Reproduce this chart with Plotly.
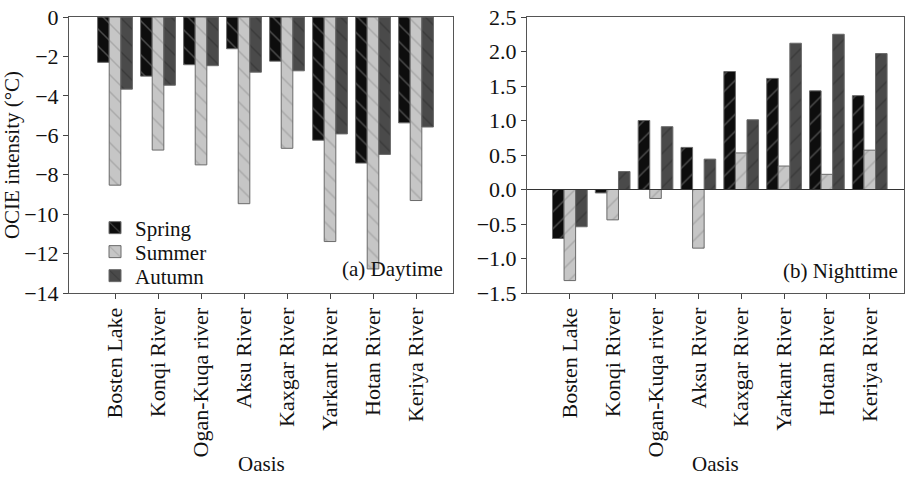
import plotly.graph_objects as go

oases = ["Bosten Lake", "Konqi River", "Ogan-Kuqa river", "Aksu River",
         "Kaxgar River", "Yarkant River", "Hotan River", "Keriya River"]
seasons = ["Spring", "Summer", "Autumn"]

day_spring = [-2.3, -3.0, -2.42, -1.61, -2.24, -6.25, -7.41, -5.37]
day_summer = [-8.53, -6.75, -7.5, -9.47, -6.66, -11.39, -12.78, -9.31]
day_autumn = [-3.66, -3.46, -2.47, -2.8, -2.73, -5.93, -6.97, -5.58]

night_spring = [-0.71, -0.05, 1.0, 0.61, 1.71, 1.61, 1.43, 1.36]
night_summer = [-1.32, -0.44, -0.13, -0.85, 0.53, 0.34, 0.22, 0.57]
night_autumn = [-0.54, 0.26, 0.91, 0.44, 1.01, 2.12, 2.25, 1.97]

day_ticks = [0, -2, -4, -6, -8, -10, -12, -14]
night_ticks = [2.5, 2.0, 1.5, 1.0, 0.5, 0.0, -0.5, -1.0, -1.5]

x_pos = list(range(len(oases)))

FONT = "Liberation Serif"
fills = {"Spring": "#0d0d0d", "Summer": "#c6c6c6", "Autumn": "#4a4a4a"}
hatch = {"Spring": "#8a8a8a", "Summer": "#8c8c8c", "Autumn": "#2a2a2a"}
legend_ids = {"Spring": "legend", "Summer": "legend2", "Autumn": "legend3"}

fig = go.Figure()

day = {"Spring": day_spring, "Summer": day_summer, "Autumn": day_autumn}
night = {"Spring": night_spring, "Summer": night_summer, "Autumn": night_autumn}

for s in seasons:
    fig.add_trace(go.Bar(
        x=x_pos, y=day[s], name=s, xaxis="x", yaxis="y", legendgroup=s,
        legend=legend_ids[s],
        marker=dict(color=fills[s], line=dict(color="#6a6a6a", width=1),
                    pattern=dict(shape="\\", fgcolor=hatch[s], size=12, solidity=0.12)),
    ))
for s in seasons:
    fig.add_trace(go.Bar(
        x=x_pos, y=night[s], name=s, xaxis="x2", yaxis="y2", legendgroup=s, showlegend=False,
        marker=dict(color=fills[s], line=dict(color="#6a6a6a", width=1),
                    pattern=dict(shape="/", fgcolor=hatch[s], size=12, solidity=0.12)),
    ))

axis_common = dict(showline=True, linecolor="#555", linewidth=1, mirror=True,
                   ticks="outside", ticklen=5, tickcolor="#444", showgrid=False,
                   zeroline=False, automargin=False, ticklabeloverflow="allow",
                   tickfont=dict(family=FONT, size=22, color="#111"))

TF = dict(family=FONT, size=21, color="#111")
PW = 904  # plotting paper width


def leg(ypos):
    return dict(x=95/PW, y=ypos, xanchor="left", yanchor="middle",
                bgcolor="rgba(0,0,0,0)", font=TF, itemwidth=30)


fig.update_layout(
    width=906, height=478,
    margin=dict(l=0, r=2, t=17, b=185),
    paper_bgcolor="white", plot_bgcolor="white",
    barmode="group", bargap=0.19, bargroupgap=0,
    font=TF,
    xaxis=dict(domain=[69/PW, 453/PW], range=[-1.07, 7.86], tickvals=x_pos,
               ticktext=oases, tickangle=-90, anchor="y", **axis_common),
    yaxis=dict(domain=[0, 1], range=[-14, 0], tickvals=day_ticks, anchor="x",
               title=dict(text="OCIE intensity (°C)", standoff=0, font=TF),
               **axis_common),
    xaxis2=dict(domain=[527/PW, 1.0], range=[-1.0, 7.8], tickvals=x_pos,
                ticktext=oases, tickangle=-90, anchor="y2", **axis_common),
    yaxis2=dict(domain=[0, 1], range=[-1.5, 2.5], tickvals=night_ticks, tickformat=".1f",
                anchor="x2", **axis_common),
    legend=leg(0.2355),
    legend2=leg(0.1486),
    legend3=leg(0.0616),
    shapes=[dict(type="line", xref="x2 domain", yref="y2", x0=0, x1=1, y0=0, y1=0,
                 line=dict(color="#333", width=1.2))],
    annotations=[
        dict(text="(a) Daytime", xref="x domain", yref="y domain", x=0.978, y=0.037,
             xanchor="right", yanchor="bottom", showarrow=False, font=TF),
        dict(text="(b) Nighttime", xref="x2 domain", yref="y2 domain", x=0.99, y=0.03,
             xanchor="right", yanchor="bottom", showarrow=False, font=TF),
        dict(text="Oasis", xref="x domain", yref="paper", x=0.5, y=-0.62,
             xanchor="center", yanchor="middle", showarrow=False, font=TF),
        dict(text="Oasis", xref="x2 domain", yref="paper", x=0.5, y=-0.62,
             xanchor="center", yanchor="middle", showarrow=False, font=TF),
    ],
)

fig.write_html("out.html", config={"displayModeBar": False},
               post_script="document.body.style.margin='0px';")
